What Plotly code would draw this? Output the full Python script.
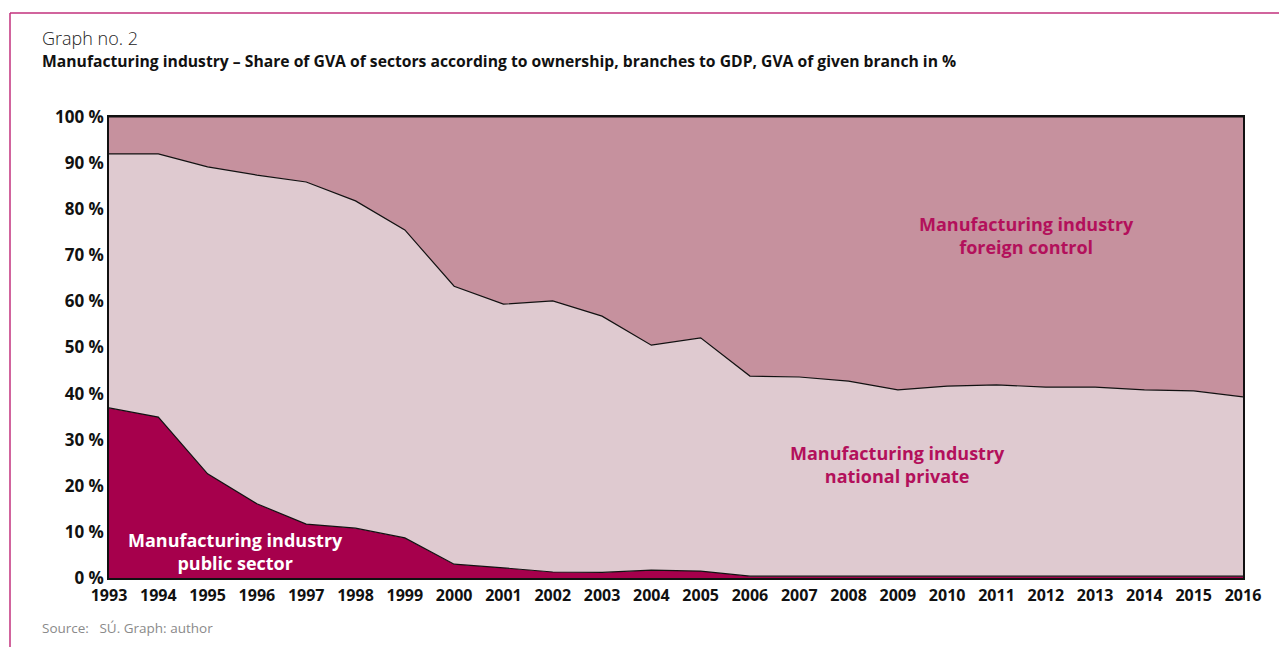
import plotly.graph_objects as go

years = list(range(1993, 2017))

# shares of GVA of manufacturing industry, %
public_sector = [36.9, 34.9, 22.6, 16.1, 11.7, 10.8, 8.7, 3.0, 2.2, 1.3, 1.2, 1.7,
                 1.5, 0.4, 0.4, 0.4, 0.4, 0.4, 0.4, 0.4, 0.4, 0.4, 0.4, 0.4]
national_private = [55.1, 57.1, 66.6, 71.3, 74.2, 71.0, 66.8, 60.3, 57.2, 58.8, 55.6, 48.8,
                    50.6, 43.4, 43.2, 42.3, 40.4, 41.2, 41.5, 41.0, 41.0, 40.4, 40.2, 38.9]
foreign_control = [8.0, 8.0, 10.8, 12.6, 14.1, 18.2, 24.5, 36.7, 40.6, 39.9, 43.2, 49.5,
                   47.9, 56.2, 56.4, 57.3, 59.2, 58.4, 58.1, 58.6, 58.6, 59.2, 59.4, 60.7]

y_ticks = list(range(0, 101, 10))

FONT = "Open Sans"
MAGENTA = "#b3105b"

fig = go.Figure()

series = [
    ("Manufacturing industry public sector", public_sector, "#a6004c"),
    ("Manufacturing industry national private", national_private, "#dfcad0"),
    ("Manufacturing industry foreign control", foreign_control, "#c6919e"),
]
for name, values, color in series:
    fig.add_trace(
        go.Scatter(
            x=years,
            y=values,
            name=name,
            mode="lines",
            stackgroup="share",
            line={"color": "#111111", "width": 1.2},
            fillcolor=color,
            hovertemplate="%{x}: %{y:.1f} %<extra>" + name + "</extra>",
        )
    )

label_font = {"family": FONT, "size": 18, "weight": "bold"}

fig.add_annotation(
    x=2011.6, y=74.3, text="Manufacturing industry<br>foreign control",
    showarrow=False, font={**label_font, "color": MAGENTA}, align="center",
)
fig.add_annotation(
    x=2009.0, y=24.6, text="Manufacturing industry<br>national private",
    showarrow=False, font={**label_font, "color": MAGENTA}, align="center",
)
fig.add_annotation(
    x=1995.56, y=5.75, text="Manufacturing industry<br>public sector",
    showarrow=False, font={**label_font, "color": "white"}, align="center",
)

# titles and source
fig.add_annotation(
    xref="paper", yref="paper", x=-0.0608, y=1.171, xanchor="left", yanchor="middle",
    text="Graph no. 2", showarrow=False,
    font={"family": FONT, "size": 18, "color": "#222222", "weight": 300},
)
fig.add_annotation(
    xref="paper", yref="paper", x=-0.0608, y=1.1215, xanchor="left", yanchor="middle",
    text="<b>Manufacturing industry – Share of GVA of sectors according to ownership, "
         "branches to GDP, GVA of given branch in %</b>",
    showarrow=False, font={"family": FONT, "size": 15.7, "color": "#111111"},
)
fig.add_annotation(
    xref="paper", yref="paper", x=-0.0608, y=-0.1085, xanchor="left", yanchor="middle",
    text="Source:   SÚ. Graph: author", showarrow=False,
    font={"family": FONT, "size": 13.5, "color": "#8a8a8a"},
)

# magenta frame around the graph
fig.add_shape(
    type="line", xref="paper", yref="paper", x0=-0.0873, x1=1.2, y0=1.2256, y1=1.2256,
    line={"color": "#c2307c", "width": 1.5},
)
fig.add_shape(
    type="line", xref="paper", yref="paper", x0=-0.0873, x1=-0.0873, y0=1.2256, y1=-0.3,
    line={"color": "#c2307c", "width": 1.5},
)

# page body adds an 8 px offset, so margins are shifted to keep the plot area in place
fig.update_layout(
    width=1287,
    height=647,
    margin={"l": 101, "r": 52, "t": 109, "b": 77},
    paper_bgcolor="white",
    plot_bgcolor="white",
    showlegend=False,
    font={"family": FONT, "color": "#111111"},
    xaxis={
        "range": [1993, 2016],
        "tickmode": "array",
        "tickvals": years,
        "ticktext": [str(y) for y in years],
        "tickangle": 0,
        "showgrid": False,
        "zeroline": False,
        "showline": True,
        "linecolor": "#111111",
        "linewidth": 1.5,
        "mirror": True,
        "ticks": "",
        "ticklabelstandoff": 2,
        "tickfont": {"family": FONT, "size": 16, "weight": "bold", "color": "#111111"},
    },
    yaxis={
        "range": [0, 100],
        "tickmode": "array",
        "tickvals": y_ticks,
        "ticktext": [f"{v} %" for v in y_ticks],
        "showgrid": False,
        "zeroline": False,
        "showline": True,
        "linecolor": "#111111",
        "linewidth": 1.5,
        "mirror": True,
        "ticks": "",
        "tickfont": {"family": FONT, "size": 17, "weight": "bold", "color": "#111111"},
    },
)

fig.write_html("out.html")
